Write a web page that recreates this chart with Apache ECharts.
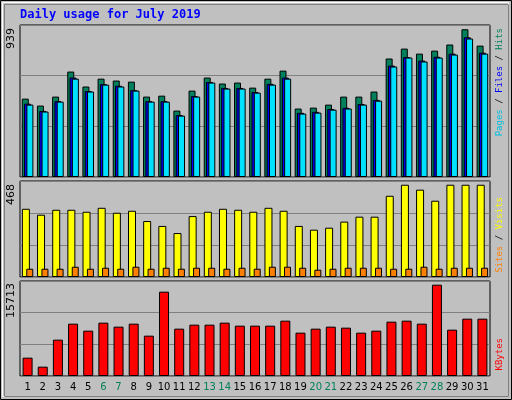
<!DOCTYPE html>
<html><head><meta charset="utf-8">
<script src="https://cdn.jsdelivr.net/npm/echarts@6/dist/echarts.min.js"></script>
<style>body{margin:0;background:#c0c0c0}#c{width:512px;height:400px}</style>
</head><body><div id="c"></div>
<script>
const days = ['1','2','3','4','5','6','7','8','9','10','11','12','13','14','15','16','17','18','19','20','21','22','23','24','25','26','27','28','29','30','31'];
const weekend = ['6','7','13','14','20','21','27','28'];
const hits = [498,454,511,670,575,625,613,606,511,517,422,549,632,594,600,568,625,676,435,441,460,511,511,543,753,816,784,803,842,939,835];
const files = [460,416,479,625,543,587,575,549,479,479,390,511,600,562,562,536,587,625,403,409,428,435,460,485,702,759,734,759,778,880,784];
const pages = [466,420,482,632,546,590,580,552,482,482,394,514,604,566,566,540,592,632,408,414,432,440,464,490,708,762,740,764,784,888,790];
const visits = [346,316,341,341,331,351,326,336,284,259,223,309,331,346,341,331,351,336,259,240,250,281,306,306,412,468,443,387,468,468,468];
const sites = [42,42,42,52,42,47,42,52,42,47,42,47,47,42,47,42,52,52,47,37,42,47,47,47,42,42,52,42,47,47,47];
const kbytes = [3155,1606,6252,9005,7801,9177,8489,9005,6940,14510,8145,8833,8833,9177,8661,8661,8661,9521,7457,8145,8489,8317,7457,7801,9349,9521,9005,15713,7973,9865,9865];

const chart = echarts.init(document.getElementById('c'));
const bx = () => ({borderColor:'#000', borderWidth:1});
const grids = [
  {left:20, right:22, top:25, height:152},
  {left:20, right:22, top:181, height:96},
  {left:20, right:22, top:281, height:95}
];
const maxes = [966, 487, 16345];
const yAxes = maxes.map((m,i) => ({
  gridIndex:i, min:0, max:m, interval:m/3,
  axisLabel:{show:false}, axisTick:{show:false}, axisLine:{show:false},
  splitLine:{lineStyle:{color:'#808080', width:1}}
}));
const xAxes = [0,1,2].map(i => ({
  gridIndex:i, type:'category', data:days,
  axisTick:{show:false}, axisLine:{show:false},
  axisLabel: i < 2 ? {show:false} : {
    interval:0, fontFamily:'DejaVu Sans', fontSize:10, margin:6,
    color:(v) => weekend.includes(v) ? '#00805c' : '#000'
  }
}));
const mono = 'DejaVu Sans Mono';
function vtext(x, y, parts) {
  // parts listed bottom to top
  return {type:'text', x:x, y:y, rotation:Math.PI/2,
    style:{rich:Object.fromEntries(parts.map((p,i)=>['p'+i,{fill:p[1],fontFamily:mono,fontSize:9}])),
      text:parts.map((p,i)=>'{p'+i+'|'+p[0]+'}').join(''), align:'right', verticalAlign:'middle'}};
}
chart.setOption({
  animation:false,
  backgroundColor:'#c0c0c0',
  grid:grids.map(g => Object.assign({show:true, borderColor:'#000', borderWidth:1, backgroundColor:'#c0c0c0'}, g)),
  xAxis:xAxes, yAxis:yAxes,
  graphic:[
    {type:'rect', shape:{x:0.5,y:0.5,width:511,height:399}, style:{fill:'none', stroke:'#000'}},
    {type:'rect', shape:{x:2.5,y:2.5,width:506,height:394}, style:{fill:'none', stroke:'#fff'}},
    {type:'rect', shape:{x:4.5,y:4.5,width:504,height:392}, style:{fill:'none', stroke:'#808080'}},
    {type:'text', x:20, y:9, style:{text:'Daily usage for July 2019', fill:'#0000ff', fontFamily:mono, fontWeight:'bold', fontSize:12}},
    {type:'text', x:11, y:28, rotation:Math.PI/2, style:{text:'939', fill:'#000', fontFamily:'DejaVu Sans', fontSize:11, align:'right', verticalAlign:'middle'}},
    {type:'text', x:11, y:184, rotation:Math.PI/2, style:{text:'468', fill:'#000', fontFamily:'DejaVu Sans', fontSize:11, align:'right', verticalAlign:'middle'}},
    {type:'text', x:11, y:283, rotation:Math.PI/2, style:{text:'15713', fill:'#000', fontFamily:'DejaVu Sans', fontSize:11, align:'right', verticalAlign:'middle'}},
    vtext(500, 28, [['Pages','#00c0e0'],[' / ','#000'],['Files','#0000ff'],[' / ','#000'],['Hits','#00805c']]),
    vtext(500, 197, [['Sites','#ff8000'],[' / ','#000'],['Visits','#ffff00']]),
    vtext(500, 338, [['KBytes','#ff0000']])
  ],
  series:[
    {type:'bar', xAxisIndex:0, yAxisIndex:0, data:hits, barWidth:7, barGap:'-67%', itemStyle:{color:'#00805c', ...bx()}},
    {type:'bar', xAxisIndex:0, yAxisIndex:0, data:pages, barWidth:7, barGap:'-67%', itemStyle:{color:'#0000ff', ...bx()}},
    {type:'bar', xAxisIndex:0, yAxisIndex:0, data:files, barWidth:7, barGap:'-67%', itemStyle:{color:'#00e0ff', ...bx()}},
    {type:'bar', xAxisIndex:1, yAxisIndex:1, data:visits, barWidth:8, barGap:'-45%', itemStyle:{color:'#ffff00', ...bx()}},
    {type:'bar', xAxisIndex:1, yAxisIndex:1, data:sites, barWidth:7, barGap:'-45%', itemStyle:{color:'#ff8000', ...bx()}},
    {type:'bar', xAxisIndex:2, yAxisIndex:2, data:kbytes, barWidth:10, itemStyle:{color:'#ff0000', ...bx()}}
  ]
});
</script></body></html>
